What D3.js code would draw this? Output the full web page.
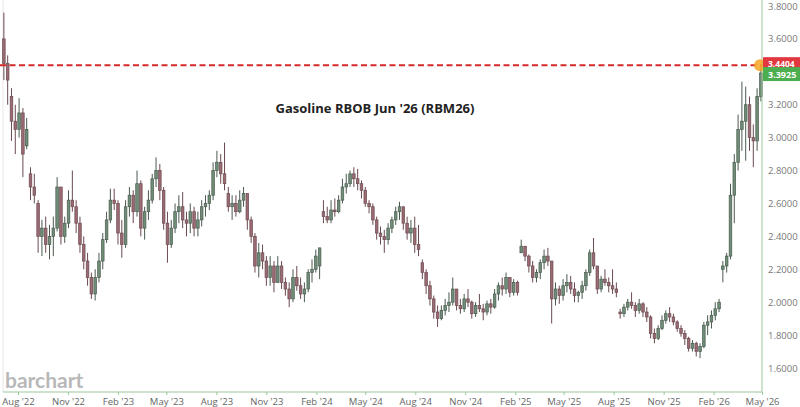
<!DOCTYPE html>
<html><head><meta charset="utf-8">
<script src="https://cdn.jsdelivr.net/npm/d3@7"></script>
<style>html,body{margin:0;padding:0;background:#fff;}svg{display:block;}</style>
</head><body>
<svg id="chart" width="800" height="407"></svg>
<script>
// Weekly candles (week starting Monday), first week 2022-07-04
const firstWeek = "2022-07-04";
const opens = [3.60,3.45,3.25,3.10,3.05,3.15,2.95,2.78,2.70,2.60,
2.40,2.45,2.35,2.40,2.45,2.70,2.40,2.48,2.62,2.58,
2.48,2.35,2.25,2.15,2.05,2.15,2.25,2.38,2.50,2.62,
2.60,2.42,2.35,2.58,2.65,2.55,2.72,2.45,2.55,2.62,
2.75,2.80,2.68,2.48,2.35,2.45,2.55,2.58,2.50,2.48,
2.55,2.45,2.50,2.58,2.60,2.65,2.80,2.85,2.78,2.66,
2.58,2.60,2.55,2.62,2.66,2.50,2.40,2.22,2.30,2.25,
2.15,2.22,2.12,2.22,2.12,2.08,2.02,2.15,2.10,2.05,
2.08,2.18,2.20,2.22,2.55,2.52,2.50,2.56,2.55,2.62,
2.70,2.72,2.78,2.75,2.72,2.68,2.60,2.58,2.50,2.42,
2.40,2.38,2.45,2.50,2.55,2.58,2.48,2.42,2.45,2.35,
2.24,2.18,2.10,2.02,1.94,1.90,1.95,1.98,2.00,2.08,
1.98,1.96,2.02,2.00,1.93,1.98,1.96,1.94,1.99,1.97,
2.05,2.10,2.08,2.15,2.06,2.12,2.30,2.34,2.28,2.22,
2.15,2.18,2.24,2.28,2.25,2.02,2.08,2.04,2.10,2.12,
2.08,2.04,2.06,2.10,2.18,2.30,2.22,2.08,2.14,2.12,
2.10,2.08,1.94,1.93,1.97,2.00,1.98,1.95,1.99,1.94,
1.91,1.81,1.78,1.84,1.89,1.93,1.91,1.88,1.84,1.81,
1.78,1.72,1.75,1.70,1.73,1.86,1.88,1.92,1.96,2.20,
2.22,2.28,2.65,2.85,3.05,3.10,3.20,3.00,2.98,3.25];
const highs = [3.76,3.50,3.30,3.20,3.24,3.18,3.12,2.82,2.78,2.62,
2.50,2.52,2.47,2.52,2.76,2.70,2.52,2.68,2.80,2.62,
2.52,2.40,2.30,2.18,2.20,2.30,2.42,2.55,2.69,2.69,
2.62,2.50,2.62,2.70,2.68,2.80,2.74,2.58,2.68,2.78,
2.88,2.84,2.70,2.55,2.50,2.60,2.65,2.67,2.55,2.60,
2.58,2.55,2.62,2.65,2.68,2.85,2.92,2.90,2.97,2.70,
2.65,2.65,2.68,2.70,2.66,2.52,2.42,2.36,2.35,2.28,
2.28,2.25,2.28,2.25,2.15,2.12,2.20,2.22,2.15,2.12,
2.20,2.26,2.32,2.33,2.62,2.58,2.62,2.63,2.65,2.75,
2.78,2.80,2.82,2.81,2.74,2.70,2.62,2.60,2.52,2.46,
2.44,2.48,2.52,2.58,2.61,2.58,2.52,2.50,2.52,2.47,
2.26,2.20,2.13,2.04,1.98,1.98,2.02,2.06,2.15,2.08,
2.02,2.05,2.08,2.01,2.00,2.05,1.99,2.01,2.02,2.08,
2.12,2.15,2.18,2.15,2.14,2.13,2.38,2.34,2.29,2.25,
2.20,2.26,2.32,2.33,2.25,2.12,2.10,2.14,2.17,2.16,
2.12,2.07,2.13,2.20,2.32,2.39,2.22,2.16,2.20,2.15,
2.20,2.12,1.96,1.99,2.02,2.06,2.00,2.02,2.00,1.97,
1.92,1.84,1.86,1.92,1.95,1.97,1.93,1.89,1.86,1.83,
1.79,1.77,1.76,1.75,1.88,1.92,1.95,2.00,2.02,2.25,
2.30,2.72,2.90,3.14,3.34,3.31,3.25,3.08,3.30,3.4404];
const lows = [3.35,3.20,2.98,2.90,3.00,2.76,2.93,2.62,2.60,2.30,
2.28,2.30,2.26,2.28,2.43,2.35,2.36,2.45,2.55,2.42,
2.30,2.20,2.10,2.02,2.01,2.12,2.20,2.36,2.48,2.56,
2.35,2.27,2.33,2.52,2.48,2.52,2.40,2.38,2.50,2.60,
2.70,2.62,2.44,2.24,2.33,2.42,2.48,2.45,2.40,2.42,
2.40,2.40,2.46,2.52,2.56,2.62,2.76,2.72,2.68,2.55,
2.50,2.52,2.54,2.58,2.44,2.36,2.18,2.15,2.20,2.10,
2.10,2.06,2.12,2.08,2.04,1.97,2.00,2.07,2.02,2.00,
2.06,2.12,2.18,2.14,2.48,2.48,2.48,2.52,2.54,2.60,
2.66,2.70,2.70,2.68,2.63,2.58,2.54,2.47,2.38,2.35,
2.30,2.35,2.42,2.47,2.50,2.44,2.38,2.36,2.30,2.28,
2.14,2.05,1.98,1.90,1.85,1.89,1.92,1.94,1.98,1.95,
1.93,1.94,1.97,1.90,1.91,1.94,1.89,1.92,1.93,1.96,
2.01,2.04,2.05,2.03,2.04,2.04,2.30,2.25,2.18,2.12,
2.12,2.14,2.20,2.22,1.87,1.98,1.99,2.01,2.06,2.05,
2.00,2.00,2.02,2.07,2.16,2.20,2.05,2.06,2.10,2.06,
2.05,2.03,1.90,1.91,1.95,1.96,1.91,1.93,1.91,1.88,
1.78,1.75,1.77,1.83,1.87,1.88,1.86,1.82,1.79,1.74,
1.70,1.70,1.67,1.66,1.72,1.80,1.84,1.89,1.94,2.12,
2.18,2.26,2.48,2.80,2.92,2.86,2.92,2.82,2.92,3.22];
const closes = [3.45,3.35,3.10,3.05,3.15,2.90,3.05,2.70,2.65,2.40,
2.45,2.35,2.40,2.45,2.70,2.40,2.48,2.62,2.58,2.48,
2.35,2.25,2.15,2.05,2.15,2.25,2.38,2.50,2.62,2.60,
2.42,2.35,2.58,2.65,2.55,2.72,2.45,2.55,2.62,2.75,
2.80,2.68,2.48,2.35,2.45,2.55,2.58,2.50,2.48,2.55,
2.45,2.50,2.58,2.60,2.65,2.80,2.85,2.78,2.72,2.58,
2.60,2.55,2.62,2.66,2.50,2.40,2.22,2.30,2.25,2.15,
2.22,2.12,2.22,2.12,2.08,2.02,2.15,2.10,2.05,2.08,
2.18,2.20,2.28,2.33,2.52,2.50,2.56,2.55,2.62,2.70,
2.72,2.78,2.75,2.72,2.68,2.60,2.58,2.50,2.42,2.40,
2.38,2.45,2.50,2.55,2.58,2.48,2.42,2.45,2.35,2.32,
2.18,2.10,2.02,1.94,1.90,1.95,1.98,2.00,2.08,1.98,
1.96,2.02,2.00,1.93,1.98,1.96,1.94,1.99,1.97,2.05,
2.10,2.08,2.15,2.06,2.12,2.06,2.34,2.28,2.22,2.15,
2.18,2.24,2.28,2.25,2.02,2.08,2.04,2.10,2.12,2.08,
2.04,2.06,2.10,2.18,2.30,2.22,2.08,2.14,2.12,2.10,
2.08,2.06,1.93,1.97,2.00,1.98,1.95,1.99,1.94,1.91,
1.81,1.78,1.84,1.89,1.93,1.91,1.88,1.84,1.81,1.78,
1.72,1.75,1.70,1.73,1.86,1.88,1.92,1.96,2.00,2.22,
2.28,2.65,2.85,3.05,3.10,3.20,3.00,2.98,3.25,3.3925];

const xTickDates = ["2022-08-01","2022-11-01","2023-02-01","2023-05-01","2023-08-01","2023-11-01","2024-02-01","2024-05-01","2024-08-01","2024-11-01","2025-02-01","2025-05-01","2025-08-01","2025-11-01","2026-02-01","2026-05-01"];
const xTickLabels = ["Aug '22","Nov '22","Feb '23","May '23","Aug '23","Nov '23","Feb '24","May '24","Aug '24","Nov '24","Feb '25","May '25","Aug '25","Nov '25","Feb '26","May '26"];
// 3.4000 is hidden behind the price labels in the reference
const yTicks = [1.6,1.8,2.0,2.2,2.4,2.6,2.8,3.0,3.2,3.6,3.8];
const highLevel = 3.4404;
const lastPrice = 3.3925;
const title = "Gasoline RBOB Jun '26 (RBM26)";

const parse = d3.utcParse("%Y-%m-%d");
const svg = d3.select("#chart");
const plotRight = 762, plotBottom = 392, plotLeft = 3;

const x = d3.scaleUtc().domain([parse("2022-08-01"), parse("2026-05-01")]).range([18, 762]);
const y = d3.scaleLinear().domain([1.6, 3.8]).range([368, 6]);

const start = parse(firstWeek);
const bars = closes.map((c, i) => ({
  date: d3.utcDay.offset(start, 7 * i + 2),
  o: opens[i], h: highs[i], l: lows[i], c: c
}));

// left faint border
svg.append("line").attr("x1", plotLeft).attr("x2", plotLeft).attr("y1", 0).attr("y2", plotBottom)
  .attr("stroke", "#e6e6e6").attr("stroke-width", 1);

// watermark
svg.append("text").attr("x", 5).attr("y", 388).text("barchart")
  .attr("font-family", "Lato, 'Open Sans', sans-serif").attr("font-weight", 700)
  .attr("font-size", 21).attr("fill", "#b8b8b8");

// title
svg.append("text").attr("x", 375).attr("y", 113).attr("text-anchor", "middle").text(title)
  .attr("font-family", "'Open Sans', sans-serif").attr("font-weight", 700)
  .attr("font-size", 13).attr("fill", "#222");

// candles
const bw = 2.6;
const g = svg.append("g");
const cand = g.selectAll("g.c").data(bars).join("g");
cand.append("line")
  .attr("x1", d => x(d.date)).attr("x2", d => x(d.date))
  .attr("y1", d => y(d.h)).attr("y2", d => y(d.l))
  .attr("stroke", d => d.c >= d.o ? "#4b5a4f" : "#6a4a50").attr("stroke-width", 1);
cand.append("rect")
  .attr("x", d => x(d.date) - bw / 2).attr("width", bw)
  .attr("y", d => y(Math.max(d.o, d.c)))
  .attr("height", d => Math.max(1, Math.abs(y(d.o) - y(d.c))))
  .attr("fill", d => d.c >= d.o ? "#6f8e77" : "#9c6a72")
  .attr("stroke", d => d.c >= d.o ? "#4b5a4f" : "#6a4a50").attr("stroke-width", 0.7);

// dashed high line
svg.append("line").attr("x1", 0).attr("x2", plotRight).attr("y1", y(highLevel)).attr("y2", y(highLevel))
  .attr("stroke", "#d42a2a").attr("stroke-width", 2).attr("stroke-dasharray", "6,3.5");

// axes lines
svg.append("line").attr("x1", plotRight).attr("x2", plotRight).attr("y1", 0).attr("y2", plotBottom)
  .attr("stroke", "#9cc79c").attr("stroke-width", 1);
svg.append("line").attr("x1", plotLeft).attr("x2", plotRight).attr("y1", plotBottom).attr("y2", plotBottom)
  .attr("stroke", "#9cc79c").attr("stroke-width", 1);

// x axis
const xAxis = d3.axisBottom(x).tickValues(xTickDates.map(parse))
  .tickFormat((d, i) => xTickLabels[i]).tickSize(3).tickPadding(3);
const gx = svg.append("g").attr("transform", `translate(0,${plotBottom})`).call(xAxis);
gx.select(".domain").remove();
gx.selectAll(".tick line").attr("stroke", "#9cc79c");
gx.selectAll(".tick text").attr("font-family", "'Open Sans', sans-serif").attr("font-size", 9.5).attr("fill", "#666");

// y axis
const yAxis = d3.axisRight(y).tickValues(yTicks).tickFormat(d3.format(".4f")).tickSize(0).tickPadding(6);
const gy = svg.append("g").attr("transform", `translate(${plotRight},0)`).call(yAxis);
gy.select(".domain").remove();
gy.selectAll(".tick text").attr("font-family", "'Open Sans', sans-serif").attr("font-size", 9.5).attr("fill", "#777");

// marker circle
svg.append("circle").attr("cx", plotRight - 2).attr("cy", y(highLevel)).attr("r", 6)
  .attr("fill", "#f5a623").attr("fill-opacity", 0.85);

// price labels
const fmt = d3.format(".4f");
const yh = y(highLevel), yl = y(lastPrice);
svg.append("rect").attr("x", plotRight + 1).attr("y", yh - 8).attr("width", 37).attr("height", 13).attr("fill", "#e0383e");
svg.append("text").attr("x", plotRight + 6).attr("y", yh + 1.5).text(fmt(highLevel))
  .attr("font-family", "'Open Sans', sans-serif").attr("font-weight", 700).attr("font-size", 8.5).attr("fill", "#fff");
svg.append("rect").attr("x", plotRight + 1).attr("y", yl - 6).attr("width", 37).attr("height", 14).attr("fill", "#4cae4f");
svg.append("text").attr("x", plotRight + 6).attr("y", yl + 5).text(fmt(lastPrice))
  .attr("font-family", "'Open Sans', sans-serif").attr("font-weight", 700).attr("font-size", 9).attr("fill", "#fff");
</script>
</body></html>
